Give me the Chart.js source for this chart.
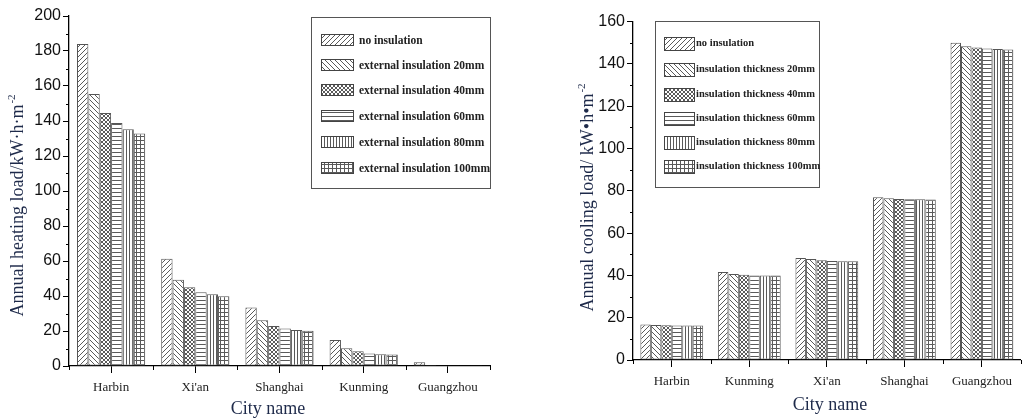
<!DOCTYPE html>
<html>
<head>
<meta charset="utf-8">
<script src="https://cdn.jsdelivr.net/npm/chart.js@4.4.0/dist/chart.umd.min.js"></script>
<style>
  body { margin: 0; background: #fff; }
  #wrap { position: relative; width: 1022px; height: 420px; }
  #heatChart { position: absolute; left: 0; top: 0; }
  #coolChart { position: absolute; left: 520px; top: 0; }
</style>
</head>
<body>
<div id="wrap">
  <canvas id="heatChart" width="520" height="420"></canvas>
  <canvas id="coolChart" width="502" height="420"></canvas>
</div>
<script>
// heating chart data (left)
var heatCities = ['Harbin', "Xi'an", 'Shanghai', 'Kunming', 'Guangzhou'];
var heatLabels = ['no insulation', 'external insulation 20mm', 'external insulation 40mm',
                  'external insulation 60mm', 'external insulation 80mm', 'external insulation 100mm'];
var heatNone = [184.0, 61.3, 33.5, 14.9, 2.1];
var heat20   = [155.4, 49.3, 26.1, 10.1, 0.6];
var heat40   = [144.6, 45.0, 22.9, 8.4, 0.2];
var heat60   = [138.9, 42.1, 21.5, 7.2, 0.1];
var heat80   = [135.3, 41.0, 20.6, 6.7, 0.1];
var heat100  = [132.9, 39.8, 20.2, 6.6, 0.1];

// cooling chart data (right)
var coolCities = ['Harbin', 'Kunming', "Xi'an", 'Shanghai', 'Guangzhou'];
var coolLabels = ['no insulation', 'insulation thickness 20mm', 'insulation thickness 40mm',
                  'insulation thickness 60mm', 'insulation thickness 80mm', 'insulation thickness 100mm'];
var coolNone = [16.8, 41.6, 48.2, 77.0, 150.0];
var cool20   = [16.5, 40.7, 47.7, 76.5, 148.3];
var cool40   = [16.4, 40.3, 47.2, 76.1, 147.8];
var cool60   = [16.3, 40.0, 46.8, 76.0, 147.3];
var cool80   = [16.3, 40.0, 46.7, 76.0, 147.0];
var cool100  = [16.3, 39.9, 46.7, 75.9, 146.8];

var patternKinds = ['slash', 'backslash', 'cross', 'hline', 'vline', 'grid'];

// build a hatch fill, pixel by pixel so lines stay crisp
function makePattern(kind) {
    var sizes = { slash: 5, backslash: 5, cross: 4, hline: 4, vline: 3, grid: 4 };
    var s = sizes[kind];
    var c = document.createElement('canvas');
    c.width = s; c.height = s;
    var g = c.getContext('2d');
    g.fillStyle = '#fff';
    g.fillRect(0, 0, s, s);
    g.fillStyle = '#5a5a5a';
    for (var x = 0; x < s; x++) {
        for (var y = 0; y < s; y++) {
            var on = false;
            if ((kind === 'slash' || kind === 'cross') && (x + y) % s === s - 1) on = true;
            if ((kind === 'backslash' || kind === 'cross') && (x - y + s) % s === 0) on = true;
            if ((kind === 'hline' || kind === 'grid') && y === 0) on = true;
            if ((kind === 'vline' || kind === 'grid') && x === 0) on = true;
            if (on) g.fillRect(x, y, 1, 1);
        }
    }
    return g.createPattern(c, 'repeat');
}

function makeDatasets(labels, series) {
    return series.map(function(values, i) {
        return {
            label: labels[i],
            data: values,
            backgroundColor: makePattern(patternKinds[i]),
            borderColor: '#555',
            borderWidth: 1,
            borderSkipped: false,
            categoryPercentage: 0.81,
            barPercentage: 1.0
        };
    });
}

// extra drawing: minor ticks, boundary ticks, titles, legend box
var decorPlugin = {
    id: 'decor',
    afterDraw: function(chart) {
        var o = chart.options.plugins.decor;
        var ctx = chart.ctx;
        var area = chart.chartArea;
        var xs = chart.scales.x, ys = chart.scales.y;
        ctx.save();
        ctx.strokeStyle = '#000';
        ctx.lineWidth = 1;
        ctx.beginPath();
        // minor y ticks
        for (var v = o.minorStep; v < ys.max; v += o.minorStep * 2) {
            var py = Math.round(ys.getPixelForValue(v)) + 0.5;
            ctx.moveTo(area.left - 3, py);
            ctx.lineTo(area.left, py);
        }
        // category boundary ticks
        for (var i = 0; i <= xs.ticks.length; i++) {
            var px = Math.round(xs.getPixelForValue(i - 0.5)) + 0.5;
            ctx.moveTo(px, area.bottom);
            ctx.lineTo(px, area.bottom + 4);
        }
        ctx.stroke();

        // axis titles
        ctx.fillStyle = '#1e2a4a';
        ctx.font = '18px "Liberation Serif"';
        ctx.textAlign = 'center';
        ctx.textBaseline = 'middle';
        ctx.fillText('City name', o.xTitle[0], o.xTitle[1]);

        ctx.translate(o.yTitle[0], o.yTitle[1]);
        ctx.rotate(-Math.PI / 2);
        var mainW = ctx.measureText(o.yTitleText).width;
        ctx.font = '11px "Liberation Serif"';
        var supW = ctx.measureText('-2').width;
        var start = -(mainW + supW) / 2;
        ctx.textAlign = 'left';
        ctx.font = '18px "Liberation Serif"';
        ctx.fillText(o.yTitleText, start, 0);
        ctx.font = '11px "Liberation Serif"';
        ctx.fillText('-2', start + mainW + 1, -6);
        ctx.restore();

        // legend box
        var L = o.legend;
        ctx.save();
        ctx.strokeStyle = '#555';
        ctx.lineWidth = 1;
        ctx.fillStyle = '#fff';
        ctx.fillRect(L.x, L.y, L.w, L.h);
        ctx.strokeRect(L.x + 0.5, L.y + 0.5, L.w, L.h);
        ctx.font = 'bold ' + L.font + 'px "Liberation Serif"';
        ctx.textBaseline = 'middle';
        ctx.textAlign = 'left';
        chart.data.datasets.forEach(function(ds, k) {
            var cy = L.rows[k];
            var top = Math.round(cy - L.sh / 2 + L.shift);
            ctx.fillStyle = ds.backgroundColor;
            ctx.fillRect(L.sx, top, L.sw, L.sh);
            ctx.strokeStyle = '#444';
            ctx.strokeRect(L.sx + 0.5, top + 0.5, L.sw, L.sh);
            ctx.fillStyle = '#222';
            ctx.fillText(ds.label, L.tx, cy);
        });
        ctx.restore();
    }
};

function makeOptions(cfg) {
    return {
        responsive: false,
        animation: false,
        layout: { padding: { left: 0, top: cfg.top, right: cfg.right, bottom: 0 } },
        plugins: {
            legend: { display: false },
            tooltip: { enabled: false },
            decor: cfg.decor
        },
        scales: {
            x: {
                offset: true,
                afterFit: function(scale) { scale.height = cfg.xHeight; },
                grid: { display: true, drawOnChartArea: false, drawTicks: true, tickLength: 7, color: '#000', offset: false },
                border: { display: true, color: '#000', width: 1.3 },
                ticks: { color: '#222', padding: 7, font: { family: 'Liberation Serif', size: 13 }, maxRotation: 0 }
            },
            y: {
                min: 0,
                max: cfg.yMax,
                afterFit: function(scale) { scale.width = cfg.yWidth; },
                grid: { display: true, drawOnChartArea: false, drawTicks: true, tickLength: 6, color: '#000' },
                border: { display: true, color: '#000', width: 1.3 },
                ticks: { stepSize: cfg.step, color: '#111', padding: 2, font: { family: 'Liberation Sans', size: 16 } }
            }
        }
    };
}

var heatChart = new Chart(document.getElementById('heatChart').getContext('2d'), {
    type: 'bar',
    data: {
        labels: heatCities,
        datasets: makeDatasets(heatLabels, [heatNone, heat20, heat40, heat60, heat80, heat100])
    },
    options: makeOptions({
        top: 16, right: 30, xHeight: 54, yWidth: 69, yMax: 200, step: 20,
        decor: {
            minorStep: 10,
            xTitle: [268, 409],
            yTitle: [18, 206],
            yTitleText: 'Annual heating load/kW\u00b7h\u00b7m',
            legend: { x: 311, y: 17, w: 179, h: 171, sx: 321, sw: 32, sh: 11, shift: -2, tx: 359, font: 11.5,
                      rows: [41.5, 66.5, 91.5, 117, 143, 169] }
        }
    }),
    plugins: [decorPlugin]
});

var coolChart = new Chart(document.getElementById('coolChart').getContext('2d'), {
    type: 'bar',
    data: {
        labels: coolCities,
        datasets: makeDatasets(coolLabels, [coolNone, cool20, cool40, cool60, cool80, cool100])
    },
    options: makeOptions({
        top: 21.6, right: 1.3, xHeight: 60, yWidth: 113, yMax: 160, step: 20,
        decor: {
            minorStep: 10,
            xTitle: [310, 405],
            yTitle: [68, 198],
            yTitleText: 'Annual cooling load/ kW\u2022h\u2022m',
            legend: { x: 135, y: 21, w: 164, h: 166, sx: 144, sw: 30, sh: 13, shift: 0, tx: 176, font: 10.5,
                      rows: [43.3, 69.3, 94, 118, 142.3, 166.7] }
        }
    }),
    plugins: [decorPlugin]
});
</script>
</body>
</html>
